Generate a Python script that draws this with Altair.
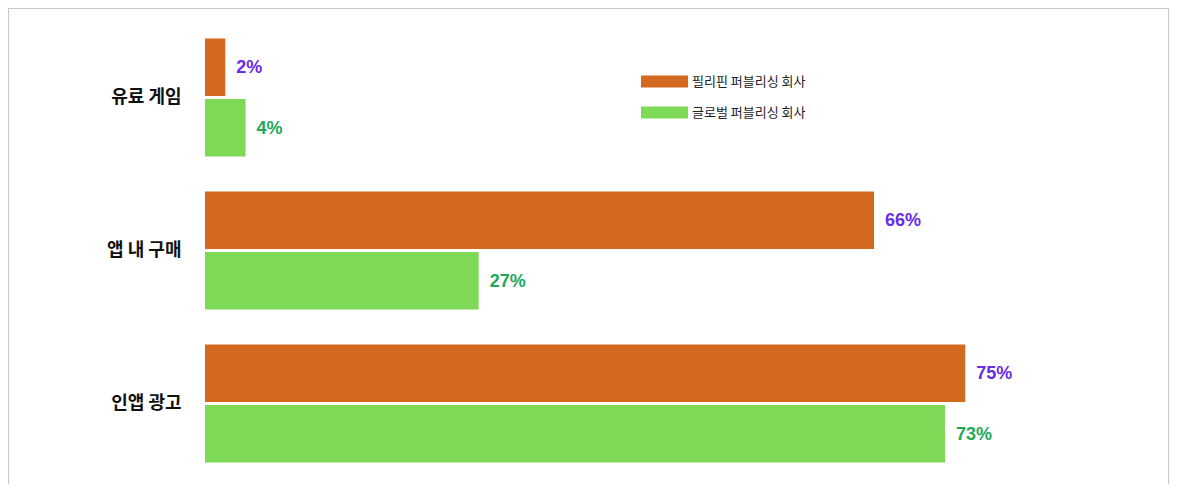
import altair as alt
import pandas as pd

categories = ["유료 게임", "앱 내 구매", "인앱 광고"]
series_names = ["필리핀 퍼블리싱 회사", "글로벌 퍼블리싱 회사"]
philippines = [2, 66, 75]
global_pub = [4, 27, 73]

rows = []
for c, p, g in zip(categories, philippines, global_pub):
    rows.append({"category": c, "series": series_names[0], "value": p, "label": f"{p}%"})
    rows.append({"category": c, "series": series_names[1], "value": g, "label": f"{g}%"})
df = pd.DataFrame(rows)

ORANGE = "#D2691E"
GREEN = "#7ED957"
PURPLE = "#6A2BE8"
GREEN_TXT = "#1FA85A"

y_enc = alt.Y("category:N", sort=categories,
              scale=alt.Scale(paddingInner=0.23, paddingOuter=0.115),
              axis=alt.Axis(title=None, domain=False, ticks=False, grid=False,
                            labelPadding=24, labelFontSize=18, labelFontWeight="bold",
                            labelColor="#111111", labelFont="Noto Sans CJK KR",
                            minExtent=192, maxExtent=192))
yoff_enc = alt.YOffset("series:N", sort=series_names,
                       scale=alt.Scale(paddingInner=0.05, paddingOuter=0))
x_enc = alt.X("value:Q", scale=alt.Scale(domain=[0, 95], nice=False), axis=None)

bars = alt.Chart(df).mark_bar().encode(
    x=x_enc, y=y_enc, yOffset=yoff_enc,
    color=alt.Color("series:N", sort=series_names,
                    scale=alt.Scale(domain=series_names, range=[ORANGE, GREEN]),
                    legend=alt.Legend(title=None, orient="none", legendX=436, legendY=37,
                                      symbolType="M-1,-0.255H1V0.255H-1Z", symbolSize=2209,
                                      symbolStrokeWidth=0, symbolOpacity=1,
                                      labelFont="Noto Sans CJK KR", labelFontSize=13,
                                      labelColor="#222222", labelOffset=4,
                                      rowPadding=0, padding=0)),
)

texts = alt.Chart(df).mark_text(align="left", baseline="middle", dx=11, dy=1,
                                fontSize=18, fontWeight="bold",
                                font="Liberation Sans").encode(
    x=x_enc, y=y_enc, yOffset=yoff_enc,
    text="label:N",
    color=alt.condition(alt.datum.series == series_names[0],
                        alt.value(PURPLE), alt.value(GREEN_TXT)),
)

frame_left = alt.Chart(df).mark_rule(color="#C8C8C8", strokeWidth=1).encode(
    x=alt.value(-196.5), y=alt.value(-12.5), y2=alt.value(480))
frame_top = alt.Chart(df).mark_rule(color="#C8C8C8", strokeWidth=1).encode(
    x=alt.value(-196.5), x2=alt.value(963.5), y=alt.value(-12.5))
frame_right = alt.Chart(df).mark_rule(color="#C8C8C8", strokeWidth=1).encode(
    x=alt.value(963.5), y=alt.value(-12.5), y2=alt.value(480))

chart = alt.layer(bars, texts, frame_left, frame_top, frame_right).properties(
    width=963, height=459,
    background="white",
    autosize=alt.AutoSizeParams(type="none"),
    padding={"left": 197, "top": 13, "right": 1, "bottom": 4},
).configure_view(stroke=None, strokeWidth=0)

chart.save("out.html", embed_options={"renderer": "svg", "actions": False})
